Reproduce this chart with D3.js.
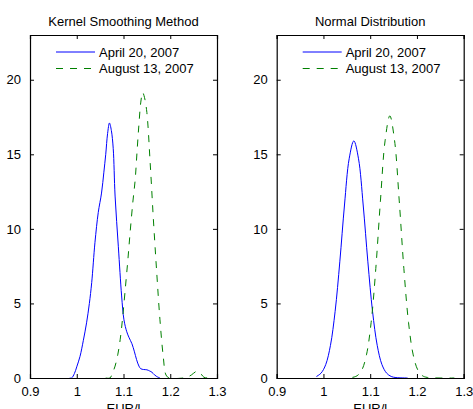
<!DOCTYPE html>
<html>
<head>
<meta charset="utf-8">
<script src="https://cdn.jsdelivr.net/npm/d3@7"></script>
<style>
  body { margin: 0; background: #fff; }
  text { font-family: "Liberation Sans", Arial, sans-serif; }
</style>
</head>
<body>
<div id="chart"></div>
<script>

// kernel smoothing estimates [EUR/l, density]
var kernelApril = [
    [0.985, 0], [0.989, 0], [0.995, 0.3], [1.0, 0.75], [1.007, 1.45], [1.014, 2.5],
    [1.021, 3.7], [1.027, 5.0], [1.032, 6.4], [1.039, 9.1], [1.046, 11.1], [1.053, 12.4],
    [1.058, 13.8], [1.062, 15.0], [1.066, 16.4], [1.070, 17.1], [1.074, 16.6], [1.078, 15.4],
    [1.082, 12.2], [1.089, 8.8], [1.096, 5.5], [1.101, 3.9], [1.107, 3.1], [1.112, 2.7],
    [1.118, 2.3], [1.123, 1.8], [1.128, 1.23], [1.133, 0.8], [1.137, 0.62], [1.143, 0.57],
    [1.150, 0.55], [1.156, 0.47], [1.161, 0.38], [1.166, 0.22], [1.171, 0.1], [1.178, 0]
];
var kernelAugust = [
    [1.062, 0], [1.071, 0], [1.076, 0.3], [1.082, 0.8], [1.088, 1.6], [1.093, 2.6],
    [1.098, 4.0], [1.103, 5.7], [1.109, 7.8], [1.114, 9.7], [1.120, 11.8], [1.125, 13.3],
    [1.129, 15.2], [1.133, 17.0], [1.137, 18.5], [1.141, 19.15], [1.145, 18.8], [1.150, 17.8],
    [1.157, 14.45], [1.164, 10.6], [1.171, 7.1], [1.178, 3.9], [1.185, 1.45], [1.191, 0.2],
    [1.198, 0], [1.228, 0], [1.236, 0.05], [1.245, 0.2], [1.257, 0.45], [1.265, 0.3],
    [1.272, 0.05], [1.28, 0]
];

// fitted normal densities
var normalApril = [
    [0.985, 0.1], [0.995, 0.33], [1.005, 0.91], [1.015, 2.19], [1.025, 4.47], [1.035, 7.79],
    [1.045, 11.6], [1.055, 14.7], [1.065, 15.9], [1.075, 14.7], [1.085, 11.6], [1.095, 7.79],
    [1.105, 4.47], [1.115, 2.19], [1.125, 0.91], [1.135, 0.33], [1.145, 0.1], [1.155, 0.03],
    [1.18, 0]
];
var normalAugust = [
    [1.062, 0.04], [1.072, 0.15], [1.082, 0.53], [1.092, 1.55], [1.102, 3.72], [1.112, 7.34],
    [1.122, 11.93], [1.132, 15.95], [1.142, 17.58], [1.152, 15.95], [1.162, 11.93], [1.172, 7.34],
    [1.182, 3.72], [1.192, 1.55], [1.202, 0.53], [1.212, 0.15], [1.222, 0.04], [1.28, 0]
];

var xTicks = [0.9, 1, 1.1, 1.2, 1.3];
var yTicks = [0, 5, 10, 15, 20];
var seriesNames = ["April 20, 2007", "August 13, 2007"];
var titles = ["Kernel Smoothing Method", "Normal Distribution"];
var xLabel = "EUR/l";

var W = 473, H = 409;
var svg = d3.select("#chart")
    .append("svg")
    .attr("width", W)
    .attr("height", H);
svg.append("rect").attr("width", W).attr("height", H).attr("fill", "#fff");

// panel size
var panelW = 187, panelH = 343, panelTop = 35;

function drawPanel(left, title, blue, green) {
    var g = svg.append("g")
        .attr("transform", "translate(" + left + "," + panelTop + ")");

    var x = d3.scaleLinear().domain([0.9, 1.3]).range([0, panelW]);
    var y = d3.scaleLinear().domain([0, 23]).range([panelH, 0]);

    var line = d3.line()
        .x(function (d) { return x(d[0]); })
        .y(function (d) { return y(d[1]); })
        .curve(d3.curveCatmullRom);

    g.append("path")
        .datum(blue)
        .attr("fill", "none")
        .attr("stroke", "#0000ff")
        .attr("stroke-width", 1)
        .attr("d", line);

    g.append("path")
        .datum(green)
        .attr("fill", "none")
        .attr("stroke", "#008000")
        .attr("stroke-width", 1)
        .attr("stroke-dasharray", "7,7")
        .attr("d", line);

    // axes with inward ticks, box on
    var fmt = function (d) { return d3.format("")(d); };
    var ax = g.append("g")
        .attr("transform", "translate(0," + panelH + ")")
        .call(d3.axisBottom(x).tickValues(xTicks).tickSize(-4).tickPadding(9).tickFormat(fmt));
    var axTop = g.append("g")
        .call(d3.axisTop(x).tickValues(xTicks).tickSize(-4).tickFormat(""));
    var ay = g.append("g")
        .call(d3.axisLeft(y).tickValues(yTicks).tickSize(-4).tickPadding(9));
    var ayRight = g.append("g")
        .attr("transform", "translate(" + panelW + ",0)")
        .call(d3.axisRight(y).tickValues(yTicks).tickSize(-4).tickFormat(""));

    [ax, axTop, ay, ayRight].forEach(function (a) {
        a.select(".domain").attr("stroke", "#000").attr("stroke-width", 1.2);
        a.selectAll(".tick line").attr("stroke", "#000");
        a.selectAll(".tick text")
            .attr("fill", "#000")
            .style("font-family", "'Liberation Sans', Arial, sans-serif")
            .style("font-size", "13px");
    });

    g.append("text")
        .attr("x", panelW / 2)
        .attr("y", -9)
        .attr("text-anchor", "middle")
        .style("font-size", "13px")
        .text(title);

    g.append("text")
        .attr("x", panelW / 2)
        .attr("y", panelH + 35)
        .attr("text-anchor", "middle")
        .style("font-size", "13px")
        .text(xLabel);

    // legend (no box)
    var leg = g.append("g").attr("transform", "translate(26,17)");
    [["#0000ff", null], ["#008000", "7,7"]].forEach(function (s, i) {
        leg.append("line")
            .attr("x1", 0).attr("x2", 39)
            .attr("y1", i * 16.5).attr("y2", i * 16.5)
            .attr("stroke", s[0])
            .attr("stroke-width", 1)
            .attr("stroke-dasharray", s[1]);
        leg.append("text")
            .attr("x", 43)
            .attr("y", i * 16.5 + 4.5)
            .style("font-size", "13px")
            .text(seriesNames[i]);
    });
}

drawPanel(30, titles[0], kernelApril, kernelAugust);
drawPanel(276.7, titles[1], normalApril, normalAugust);

</script>
</body>
</html>
